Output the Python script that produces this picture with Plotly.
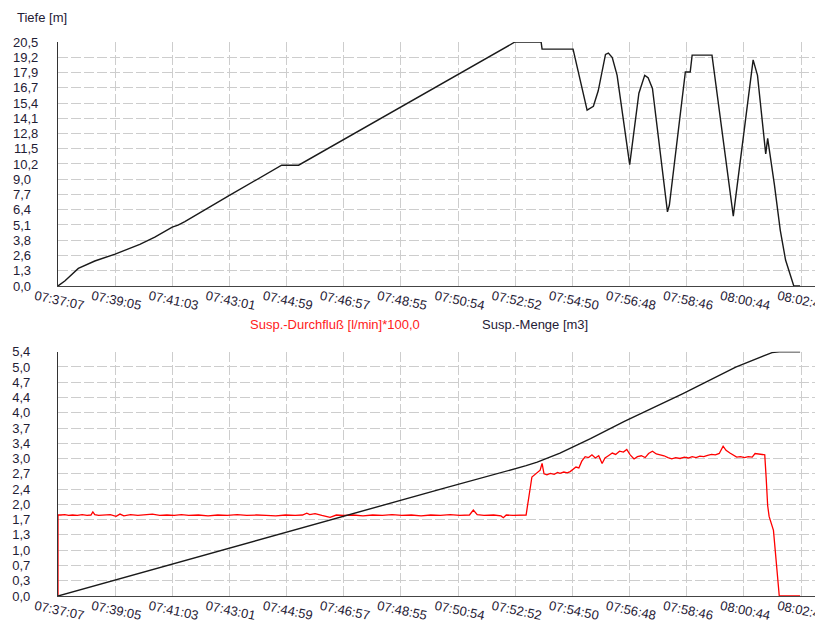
import plotly.graph_objects as go

# ---------------- data ----------------
time_labels = ["07:37:07", "07:39:05", "07:41:03", "07:43:01", "07:44:59", "07:46:57",
               "07:48:55", "07:50:54", "07:52:52", "07:54:50", "07:56:48", "07:58:46",
               "08:00:44", "08:02:42"]

depth_ticks = ["0,0", "1,3", "2,6", "3,8", "5,1", "6,4", "7,7", "9,0", "10,2", "11,5",
               "12,8", "14,1", "15,4", "16,7", "17,9", "19,2", "20,5"]
lower_ticks = ["0,0", "0,3", "0,7", "1,0", "1,3", "1,7", "2,0", "2,4", "2,7", "3,0",
               "3,4", "3,7", "4,0", "4,4", "4,7", "5,0", "5,4"]

# seconds after 07:37:07
depth_t = [0, 14, 42, 76, 118, 169, 200, 236, 248, 262, 355, 462, 497, 930, 944, 951, 998,
           1000, 1004, 1064, 1093, 1106, 1116, 1131, 1137, 1145, 1155, 1181, 1200, 1212,
           1219, 1228, 1259, 1263, 1296, 1306, 1310, 1351, 1395, 1436, 1445, 1462, 1466,
           1480, 1492, 1503, 1520, 1533]
depth_m = [0.0, 0.42, 1.48, 2.10, 2.68, 3.50, 4.10, 4.95, 5.12, 5.41, 7.63, 10.15, 10.15,
           20.2, 20.5, 20.5, 20.5, 19.9, 19.9, 19.9, 14.77, 15.1, 16.4, 19.46, 19.57, 19.2,
           17.7, 10.2, 16.2, 17.7, 17.5, 16.6, 6.23, 6.8, 17.98, 17.98, 19.4, 19.4, 5.87,
           19.0, 17.7, 11.1, 12.4, 8.5, 4.7, 2.18, 0.0, 0.0]

flow_t = [0, 0, 6, 14, 22, 30, 40, 50, 60, 68, 72, 76, 84, 95, 108, 120, 128, 136, 150,
          165, 180, 195, 210, 225, 240, 255, 270, 290, 310, 330, 350, 370, 390, 410, 430,
          450, 470, 490, 505, 514, 520, 531, 545, 562, 575, 590, 610, 630, 650, 670, 690,
          710, 730, 750, 770, 790, 810, 830, 850, 858, 866, 880, 900, 915, 920, 926, 940,
          955, 967, 979, 990, 996, 1000, 1004, 1010, 1017, 1025, 1032, 1037, 1045, 1052,
          1058, 1070, 1076, 1082, 1089, 1096, 1103, 1110, 1117, 1124, 1130, 1137, 1145,
          1152, 1160, 1168, 1175, 1182, 1190, 1197, 1205, 1213, 1220, 1228, 1236, 1244,
          1252, 1260, 1268, 1276, 1285, 1294, 1302, 1310, 1318, 1326, 1334, 1342, 1350,
          1358, 1366, 1374, 1380, 1388, 1395, 1402, 1410, 1418, 1426, 1434, 1440, 1447,
          1455, 1460, 1463, 1466, 1469, 1473, 1478, 1490, 1533]
flow_v = [0.0, 1.79, 1.79, 1.80, 1.78, 1.79, 1.78, 1.80, 1.78, 1.79, 1.86, 1.80, 1.78,
          1.79, 1.80, 1.76, 1.81, 1.77, 1.80, 1.78, 1.79, 1.81, 1.78, 1.79, 1.78, 1.80,
          1.78, 1.79, 1.77, 1.79, 1.78, 1.80, 1.78, 1.79, 1.78, 1.77, 1.79, 1.78, 1.79,
          1.83, 1.80, 1.82, 1.78, 1.74, 1.79, 1.78, 1.79, 1.77, 1.79, 1.78, 1.80, 1.78,
          1.79, 1.77, 1.79, 1.78, 1.80, 1.78, 1.79, 1.90, 1.80, 1.78, 1.79, 1.77, 1.73,
          1.79, 1.78, 1.79, 1.79, 2.63, 2.74, 2.78, 2.93, 2.70, 2.68, 2.71, 2.69, 2.73,
          2.71, 2.74, 2.72, 2.75, 2.85, 2.83, 2.98, 3.08, 3.06, 3.12, 3.05, 3.10, 2.93,
          3.05, 3.10, 3.16, 3.13, 3.20, 3.18, 3.24, 3.12, 3.03, 3.08, 3.10, 3.06, 3.15,
          3.20, 3.14, 3.12, 3.10, 3.06, 3.03, 3.06, 3.04, 3.07, 3.05, 3.08, 3.06, 3.09,
          3.08, 3.11, 3.13, 3.12, 3.15, 3.31, 3.22, 3.16, 3.12, 3.07, 3.08, 3.06, 3.08,
          3.07, 3.15, 3.14, 3.14, 3.12, 2.60, 2.00, 1.76, 1.60, 1.45, 0.0, 0.0]

volume_t = [0, 200, 400, 597, 800, 967, 990, 1037, 1100, 1170, 1290, 1400, 1461, 1475,
            1490, 1533]
volume_m3 = [0.0, 0.60, 1.19, 1.78, 2.39, 2.88, 2.96, 3.16, 3.48, 3.86, 4.47, 5.06, 5.33,
             5.38, 5.40, 5.40]

depth_max = 20.5
lower_max = 5.4

# ---------------- helpers ----------------
def to_sec(label):
    h, m, s = (int(p) for p in label.split(":"))
    return h * 3600 + m * 60 + s

t0 = to_sec(time_labels[0])
tick_x = [to_sec(l) - t0 for l in time_labels]

FIG = "\u2007"  # figure space (digit width) to left-align labels


def pad(labels):
    n = max(len(l) for l in labels)
    return [l + FIG * (n - len(l)) for l in labels]

font_fam = "Liberation Sans, Arial, sans-serif"
tick_col = "#1f2035"
grid_col = "#cdcdcd"

fig = go.Figure()
fig.add_trace(go.Scatter(x=depth_t, y=depth_m, mode="lines", name="Tiefe [m]",
                         line=dict(color="#1a1a1a", width=1.4), xaxis="x", yaxis="y"))
fig.add_trace(go.Scatter(x=flow_t, y=flow_v, mode="lines",
                         name="Susp.-Durchfluß [l/min]*100,0",
                         line=dict(color="#ff0000", width=1.3), xaxis="x2", yaxis="y2"))
fig.add_trace(go.Scatter(x=volume_t, y=volume_m3, mode="lines", name="Susp.-Menge [m3]",
                         line=dict(color="#1a1a1a", width=1.4), xaxis="x2", yaxis="y2"))

xrange = [0, 1570]
common_x = dict(range=xrange, tickmode="array", tickvals=tick_x, ticktext=time_labels,
                tickangle=12, ticklabelshift=-23, ticklabelstandoff=-3,
                ticklabeloverflow="allow", automargin=False,
                showgrid=True, gridcolor=grid_col, griddash="10px,3px",
                gridwidth=1.2, zeroline=False, showline=True, linecolor="#444444",
                linewidth=1, ticks="", tickfont=dict(family=font_fam, size=13, color=tick_col))

n = len(depth_ticks) - 1
common_y = dict(showgrid=True, gridcolor=grid_col, griddash="10px,3px", gridwidth=1.2,
                zeroline=False, showline=True, linecolor="#333333", linewidth=1.3,
                ticks="", tickfont=dict(family=font_fam, size=13, color=tick_col),
                tickmode="array", automargin=False)

# page body has an 8px margin, so figure coordinates = page coordinates - 8
fig.update_layout(
    width=815, height=615,
    margin=dict(l=50, r=5, t=34, b=27),
    paper_bgcolor="white", plot_bgcolor="white",
    showlegend=False,
    font=dict(family=font_fam, size=13, color=tick_col),
    xaxis=dict(domain=[0, 1], anchor="y", **common_x),
    yaxis=dict(domain=[0.5596, 1.0], anchor="x", range=[0, depth_max],
               tickvals=[depth_max * i / n for i in range(n + 1)],
               ticktext=pad(depth_ticks), ticklabelstandoff=16, **common_y),
    xaxis2=dict(domain=[0, 1], anchor="y2", **common_x),
    yaxis2=dict(domain=[0, 0.441], anchor="x2", range=[0, lower_max],
                tickvals=[lower_max * i / n for i in range(n + 1)],
                ticktext=lower_ticks, ticklabelstandoff=24, **common_y),
    annotations=[
        dict(text="Tiefe [m]", xref="paper", yref="paper", x=-0.0566, y=1.0451,
             xanchor="left", yanchor="middle", showarrow=False,
             font=dict(family=font_fam, size=13, color=tick_col)),
        dict(text="Susp.-Durchfluß [l/min]*100,0", xref="paper", yref="paper", x=0.25,
             y=0.4892, xanchor="left", yanchor="middle", showarrow=False,
             font=dict(family=font_fam, size=13, color="#ff2020")),
        dict(text="Susp.-Menge [m3]", xref="paper", yref="paper", x=0.5553, y=0.4892,
             xanchor="left", yanchor="middle", showarrow=False,
             font=dict(family=font_fam, size=13, color=tick_col)),
    ],
)

fig.write_html("out.html")
